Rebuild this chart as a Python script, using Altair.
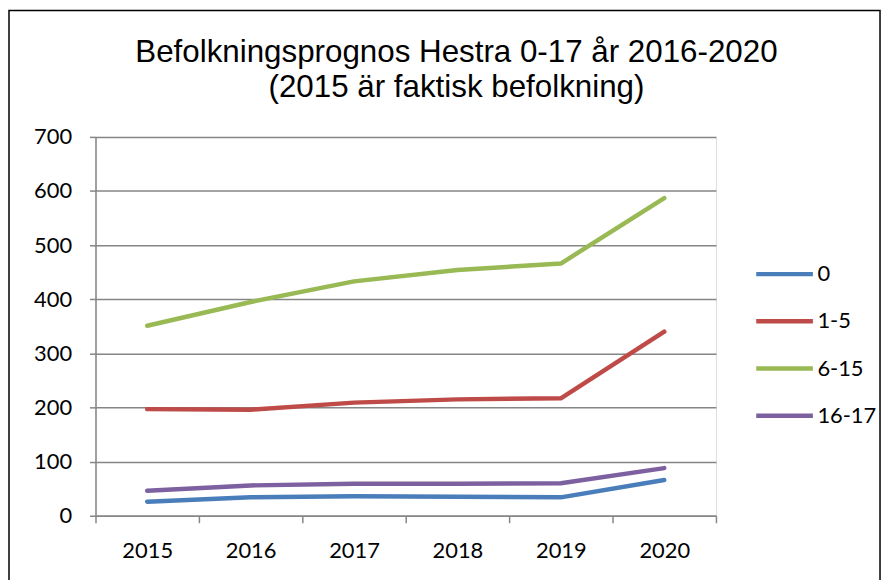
import altair as alt
import pandas as pd

years = ["2015", "2016", "2017", "2018", "2019", "2020"]
groups = ["0", "1-5", "6-15", "16-17"]
v0 = [26, 34, 36, 35, 34, 66]
v1_5 = [197, 196, 209, 215, 217, 340]
v6_15 = [351, 395, 433, 454, 466, 587]
v16_17 = [46, 56, 59, 59, 60, 88]
colors = ["#4A7EBB", "#BE4B48", "#98B954", "#7D60A0"]
y_ticks = [0, 100, 200, 300, 400, 500, 600, 700]
title_lines = ["Befolkningsprognos Hestra 0-17 år 2016-2020", "(2015 är faktisk befolkning)"]

rows = []
for g, vals in zip(groups, [v0, v1_5, v6_15, v16_17]):
    for yr, v in zip(years, vals):
        rows.append({"year": yr, "group": g, "value": v})
df = pd.DataFrame(rows)

W, H = 624, 381
AX = "#868686"

lines = alt.Chart(df).mark_line(strokeWidth=4.5, strokeCap="round", strokeJoin="round").encode(
    x=alt.X("year:N", bandPosition=0.5, sort=years,
            scale=alt.Scale(type="band", paddingInner=0, paddingOuter=0),
            axis=alt.Axis(title=None, labelAngle=0, tickBand="extent", grid=False,
                          domainColor=AX, tickColor=AX, domainWidth=1.5, tickWidth=1.5,
                          tickSize=7, labelPadding=18, labelFont="Lato", labelFontSize=22,
                          labelColor="#000000")),
    y=alt.Y("value:Q", scale=alt.Scale(domain=[0, 700], nice=False),
            axis=alt.Axis(title=None, values=y_ticks, grid=True, gridColor=AX, gridWidth=1.5,
                          domainColor=AX, tickColor=AX, domainWidth=1.5, tickWidth=1.5,
                          tickSize=6, labelPadding=18, labelFont="Lato", labelFontSize=22,
                          labelColor="#000000")),
    color=alt.Color("group:N", sort=groups,
                    scale=alt.Scale(domain=groups, range=colors),
                    legend=alt.Legend(title=None, orient="none", legendX=662, legendY=107,
                                      symbolType="stroke", symbolSize=3249, symbolStrokeWidth=4.5,
                                      labelFont="Lato", labelFontSize=22, labelColor="#000000",
                                      labelOffset=2, rowPadding=5.5, padding=0)),
)

border = alt.Chart(alt.Data(values=[{}])).mark_rect(
    fill=None, stroke="#000000", strokeWidth=1.5, clip=False
).encode(
    x=alt.value(-87), x2=alt.value(789), y=alt.value(-127), y2=alt.value(460)
)

chart = alt.layer(lines, border).properties(
    width=W, height=H,
    title=alt.TitleParams(title_lines, font="Liberation Sans", fontSize=31.5, fontWeight="normal",
                          anchor="middle", frame="group", dx=51, offset=-94.5, lineHeight=36,
                          color="#000000"),
    autosize=alt.AutoSizeParams(type="none"),
    padding={"left": 88, "top": 128, "right": 168, "bottom": 63},
).configure_view(stroke=None).configure(background="white")

chart.save("out.html", embed_options={"renderer": "svg", "actions": False})
